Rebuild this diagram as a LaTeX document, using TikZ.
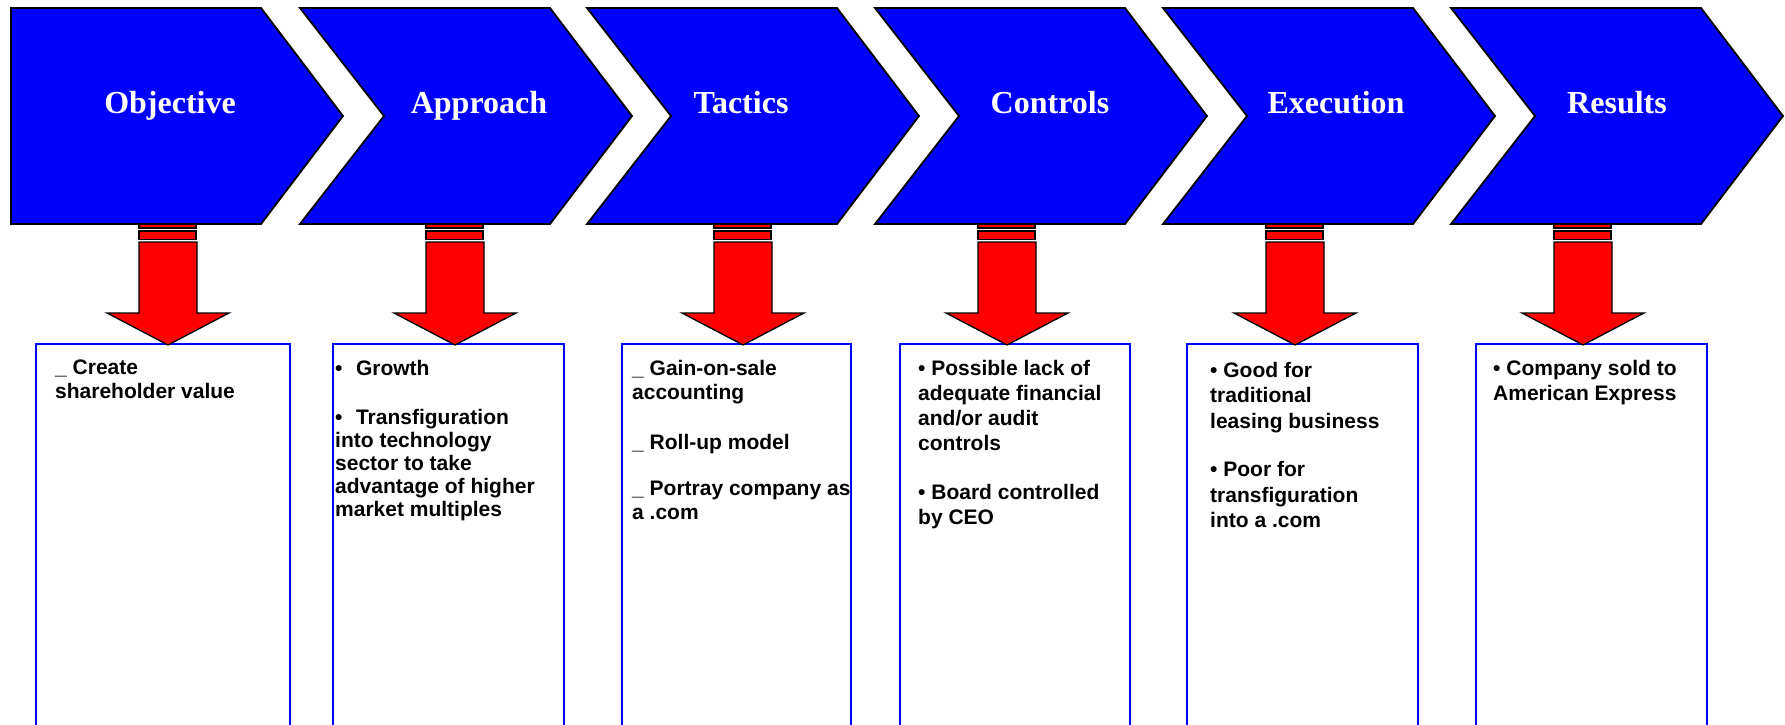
\documentclass[tikz,border=0pt]{standalone}
\usepackage{fontspec}
\setmainfont{Liberation Sans}
\newfontfamily\headfont{Liberation Serif}
\usetikzlibrary{positioning}
\definecolor{chevblue}{RGB}{0,0,255}
\definecolor{arrred}{RGB}{255,0,0}
\tikzset{
chev/.style={draw=black, fill=chevblue, line width=1.8pt},
head/.style={text=white, inner sep=0pt, anchor=base,
    font=\headfont\bfseries\fontsize{32}{36}\selectfont},
redarr/.style={draw=black, fill=arrred, line width=1.3pt},
infobox/.style={draw=chevblue, line width=1.7pt},
% node top = first baseline - 15
info/.style={anchor=north west, align=left, inner sep=0pt,
    font=\bfseries\fontsize{21}{#1}\selectfont},
downarrow/.pic={
    \draw[redarr] (-29,-4) rectangle (28,4);
    \draw[redarr] (-29,7) rectangle (28,15.5);
    \draw[redarr] (-29,18) -- (29,18) -- (29,89) -- (61,89) -- (0,121)
        -- (-61,89) -- (-29,89) -- cycle;
},
notched/.pic={
    \draw[chev] (0,0) -- (250,0) -- (332,108) -- (250,216) -- (0,216)
        -- (84,108) -- cycle;
}
}

\begin{document}
\begin{tikzpicture}[x=1pt,y=-1pt]
\useasboundingbox (0,0) rectangle (1785,725);

% boxes below
\draw[infobox] (36,344) rectangle (290,740);
\draw[infobox] (333,344) rectangle (564,740);
\draw[infobox] (622,344) rectangle (851,740);
\draw[infobox] (900,344) rectangle (1130,740);
\draw[infobox] (1187,344) rectangle (1418,740);
\draw[infobox] (1476,344) rectangle (1707,740);

% red arrows
\pic (arr1) at (168,224) {downarrow};
\pic (arr2) at (455,224) {downarrow};
\pic (arr3) at (743,224) {downarrow};
\pic (arr4) at (1007,224) {downarrow};
\pic (arr5) at (1295,224) {downarrow};
\pic (arr6) at (1583,224) {downarrow};

% chevrons
\draw[chev] (11,8) -- (261,8) -- (343,116) -- (261,224) -- (11,224) -- cycle;
\pic (chev2) at (300,8) {notched};
\pic (chev3) at (587,8) {notched};
\pic (chev4) at (875,8) {notched};
\pic (chev5) at (1163,8) {notched};
\pic (chev6) at (1451,8) {notched};

\node[head] (objective) at (170,113) {Objective};
\node[head] (approach) at (479,113) {Approach};
\node[head] (tactics) at (741,113) {Tactics};
\node[head] (controls) at (1050,113) {Controls};
\node[head] (execution) at (1336,113) {Execution};
\node[head] (results) at (1617,113) {Results};

% texts
\node[info=24] (objtxt) at (55,360) {\_ Create\\shareholder value};
\node[info=23] (apprtxt) at (335,360) {\textbullet\hspace{13.5pt}Growth\\[26pt]
    \textbullet\hspace{13.5pt}Transfiguration\\into technology\\sector to take\\
    advantage of higher\\market multiples};
\node[info=24] (tacttxt) at (632,360) {\_ Gain-on-sale\\accounting\\[26pt]
    \_ Roll-up model\\[22pt]\_ Portray company as\\a .com};
\node[info=25] (ctrltxt) at (918,360) {\textbullet\ Possible lack of\\adequate financial\\
    and/or audit\\controls\\[24pt]\textbullet\ Board controlled\\by CEO};
\node[info=25.5] (exectxt) at (1210,362) {\textbullet\ Good for\\traditional\\
    leasing business\\[23pt]\textbullet\ Poor for\\transfiguration\\into a .com};
\node[info=25.3] (restxt) at (1493,360) {\textbullet\ Company sold to\\American Express};
\end{tikzpicture}
\end{document}
